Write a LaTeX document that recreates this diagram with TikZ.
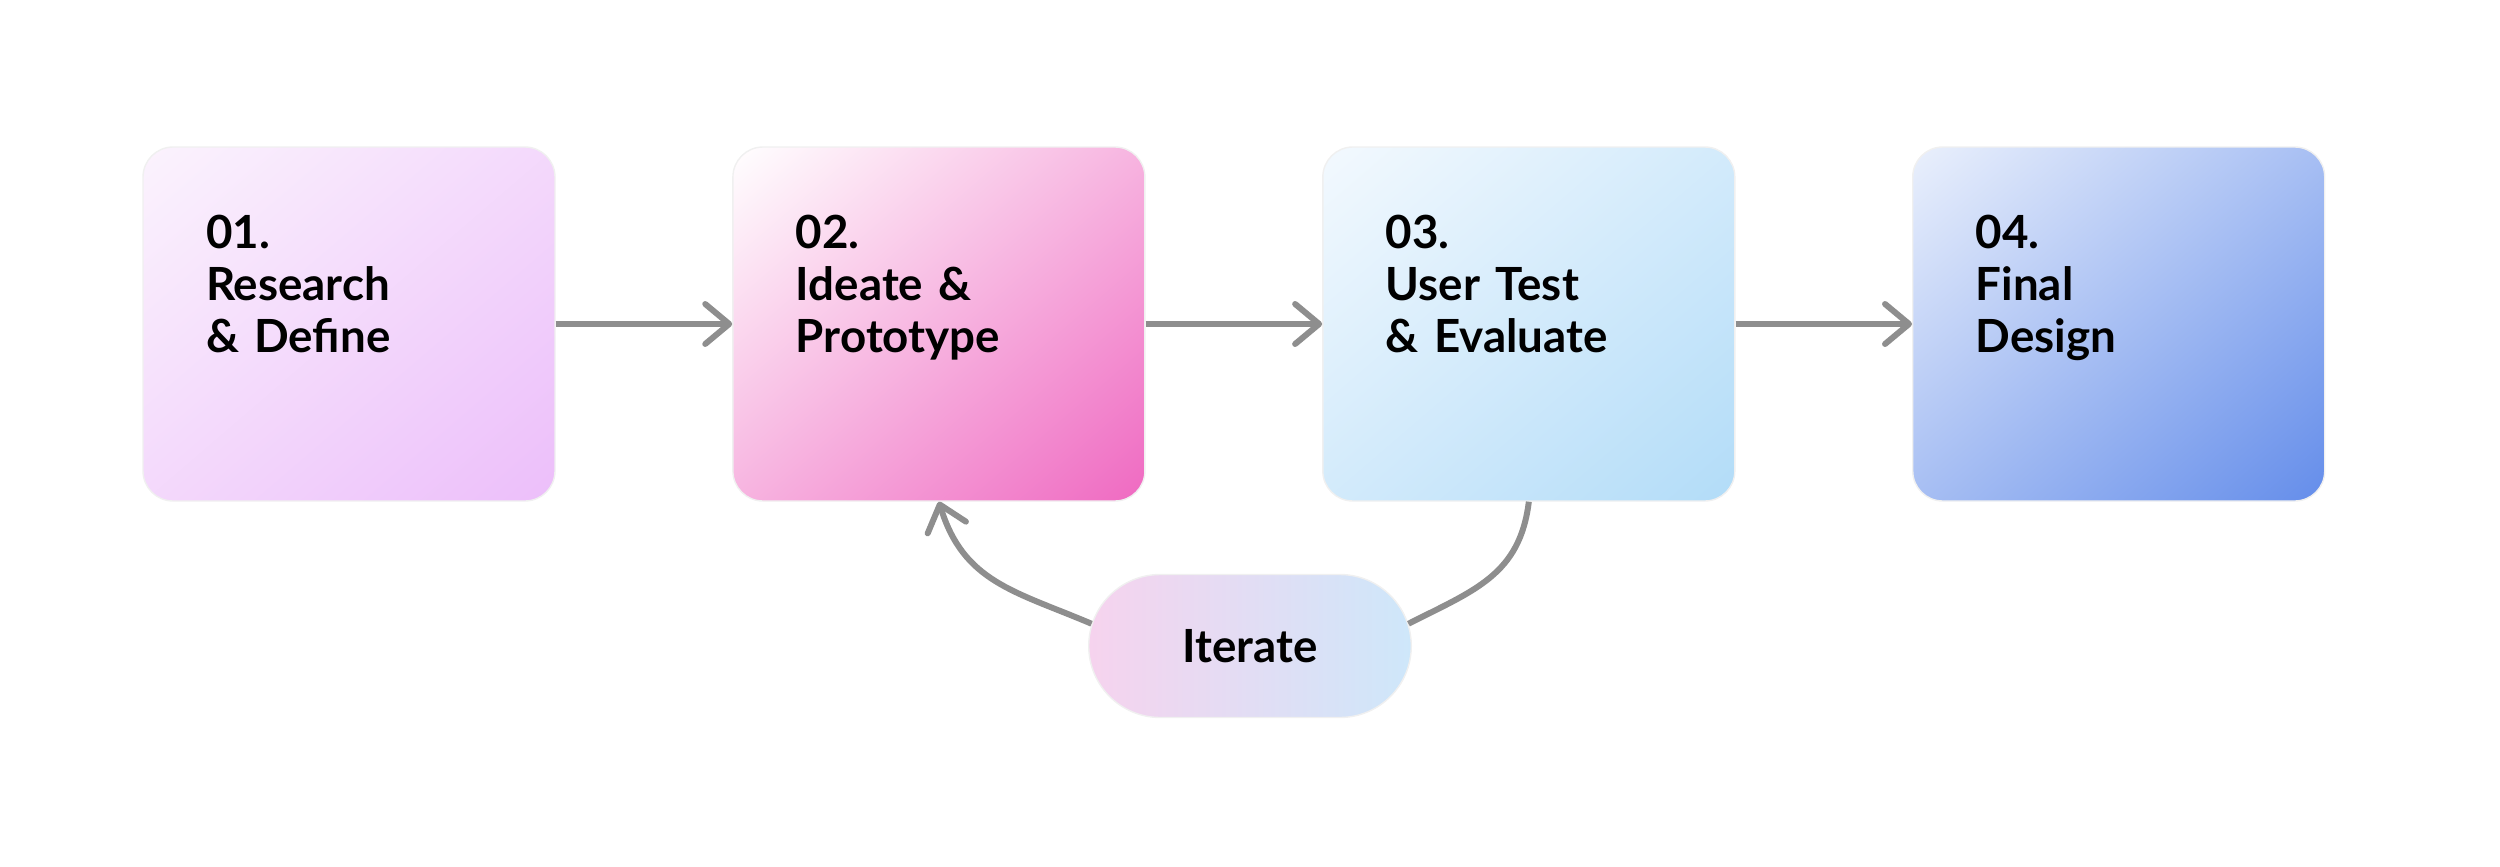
\documentclass[tikz,border=0pt]{standalone}
\usepackage{fontspec}
\setmainfont{Lato}
\usepackage{tikz}
\usetikzlibrary{arrows.meta, positioning, shapes.misc, shadings}
\definecolor{cResA}{HTML}{FBF3FD}
\definecolor{cResB}{HTML}{ECBEFA}
\definecolor{cIdeA}{HTML}{FFFFFF}
\definecolor{cIdeB}{HTML}{EF69C1}
\definecolor{cTstA}{HTML}{F3F9FE}
\definecolor{cTstB}{HTML}{B2DCF8}
\definecolor{cFinA}{HTML}{EAF0FC}
\definecolor{cFinB}{HTML}{648DEA}
\definecolor{cLoopA}{HTML}{F6D3EE}
\definecolor{cLoopB}{HTML}{CEE7FA}
\definecolor{cArrow}{HTML}{8E8E8E}
\tikzset{
    stage/.style={rectangle, rounded corners=0.3cm, minimum width=4.12cm, minimum height=3.54cm, text width=2.86cm, align=left, inner xsep=0.63cm, inner ysep=0pt, text height=1.01cm, text depth=2.53cm, draw=black!6, line width=0.4pt, font=\bfseries\fontsize{13}{14.8}\selectfont},
    stagefill/.style 2 args={upper left=#1, lower right=#2, upper right=#1!50!#2, lower left=#1!50!#2},
    loopbox/.style={rounded rectangle, minimum width=3.46cm, minimum height=1.43cm, left color=cLoopA, right color=cLoopB, draw=black!6, line width=0.4pt, font=\bfseries\fontsize{13}{14.8}\selectfont},
    flowarrow/.style={-{Straight Barb[length=2.4mm, width=4mm, round]}, line width=1.7pt, draw=cArrow},
}
\begin{document}
\begin{tikzpicture}[node distance=1.765cm]
    \useasboundingbox (0,0) rectangle (25,-8.66);
    \node[stage, stagefill={cResA}{cResB}] (research) at (3.49,-3.24) {01.\\Research\\\&~Define};
    \node[stage, stagefill={cIdeA}{cIdeB}, right=of research] (ideate) {02.\\Ideate \&\\Prototype};
    \node[stage, stagefill={cTstA}{cTstB}, right=of ideate] (test) {03.\\User Test\\\&~Evaluate};
    \node[stage, stagefill={cFinA}{cFinB}, right=of test] (final) {04.\\Final\\Design};
    \node[loopbox] (iterate) at (12.50,-6.46) {Iterate};
    \draw[flowarrow] (research) -- (ideate);
    \draw[flowarrow] (ideate) -- (test);
    \draw[flowarrow] (test) -- (final);
    \draw[flowarrow, -] (test.south) to[out=-97, in=27, looseness=1.1] (iterate.8);
    \draw[flowarrow] (iterate.172) to[out=157, in=-73, looseness=1.1] (ideate.south);
\end{tikzpicture}
\end{document}
